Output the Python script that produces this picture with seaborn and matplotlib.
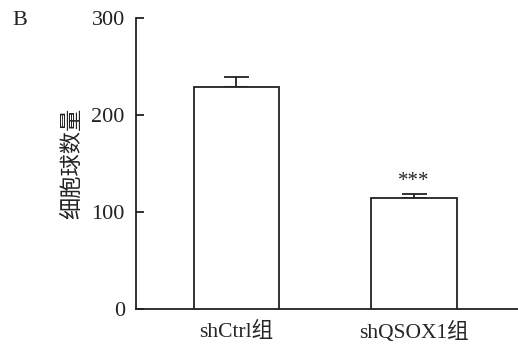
import matplotlib
matplotlib.use("Agg")
import matplotlib.pyplot as plt
import seaborn as sns
import pandas as pd
import numpy as np

categories = ["shCtrl组", "shQSOX1组"]
means = [229, 114]
errors = [10, 4.5]
ylabel = "细胞球数量"
yticks = [0, 100, 200, 300]

sns.set_theme(style="ticks")
plt.rcParams['font.family'] = ['Liberation Serif', 'Noto Sans CJK SC']

df = pd.DataFrame({"group": categories, "value": means})

fig = plt.figure(figsize=(5.18, 3.47), dpi=100)
ax = fig.add_axes([0.2625, 0.1095, 0.7375, 0.8385])
sns.barplot(data=df, x="group", y="value", ax=ax, color="white",
            edgecolor="#222222", linewidth=1.3, width=0.48, errorbar=None, zorder=3)
xs = np.arange(len(categories))
ax.errorbar(xs, means, yerr=[np.zeros(len(errors)), errors], fmt="none",
            ecolor="#222222", elinewidth=1.3, capsize=9, capthick=1.3, zorder=2)
ax.text(1, means[1] + errors[1] + 3, "***", ha="center", va="bottom",
        fontsize=15, color="#222222")

ax.set_ylim(0, 300)
ax.set_xlim(-0.566, 1.586)
ax.set_yticks(yticks)
ax.set_yticklabels([str(t) for t in yticks], fontsize=16)
ax.set_xticks(xs)
ax.set_xticklabels(categories, fontsize=15.5)
ax.tick_params(axis="x", length=0, pad=9)
ax.tick_params(axis="y", length=6, width=1.3, direction="in", pad=8, colors="#222222")
ax.set_xlabel("")
ax.set_ylabel(ylabel, fontsize=16, labelpad=6, color="#222222")
for s in ["top", "right"]:
    ax.spines[s].set_visible(False)
for s in ["left", "bottom"]:
    ax.spines[s].set_linewidth(1.3)
    ax.spines[s].set_color("#222222")

fig.text(0.023, 0.94, "B", fontsize=16, ha="left", va="center", color="#222222")
fig.savefig("out.png", dpi=100)
